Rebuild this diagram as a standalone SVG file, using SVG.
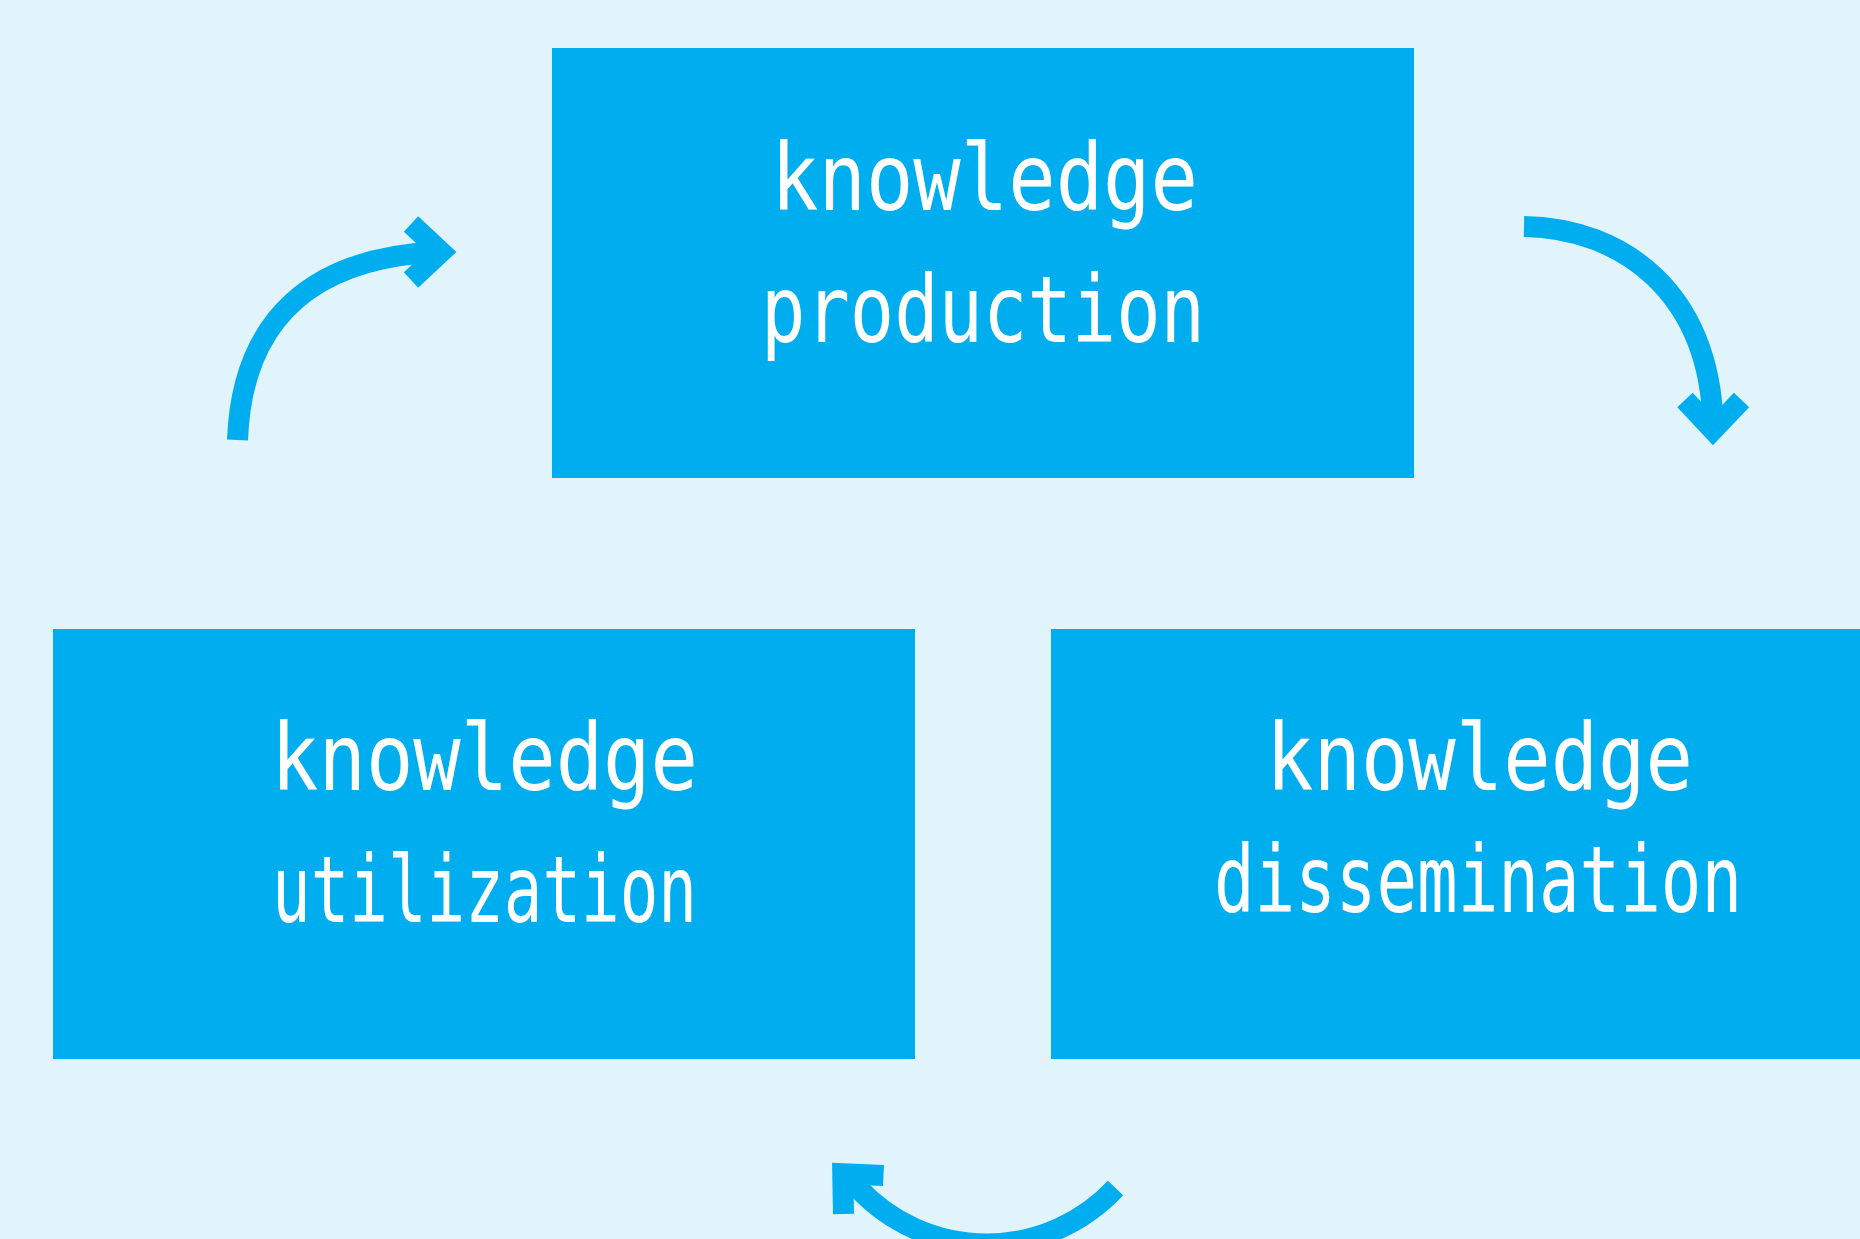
<svg xmlns="http://www.w3.org/2000/svg" width="1860" height="1239" viewBox="0 0 1860 1239">
<style>
.box{fill:#00AEEF}
.lbl{fill:#FFFFFF;font-family:"DejaVu Sans Mono","Liberation Mono",monospace;font-size:93px}
.arr{fill:none;stroke:#00AEEF;stroke-width:21;stroke-linecap:butt;stroke-linejoin:miter;stroke-miterlimit:10}
</style>
<rect width="1860" height="1239" fill="#E1F4FB"/>
<g id="node-production">
<rect class="box" x="552" y="48" width="862" height="430"/>
<text class="lbl" x="771" y="210" textLength="427" lengthAdjust="spacingAndGlyphs">knowledge</text>
<text class="lbl" x="761" y="342" textLength="444" lengthAdjust="spacingAndGlyphs">production</text>
</g>
<g id="node-utilization">
<rect class="box" x="53" y="629" width="862" height="430"/>
<text class="lbl" x="271" y="790" textLength="427" lengthAdjust="spacingAndGlyphs">knowledge</text>
<text class="lbl" x="272" y="922" textLength="425" lengthAdjust="spacingAndGlyphs">utilization</text>
</g>
<g id="node-dissemination">
<rect class="box" x="1051" y="629" width="862" height="430"/>
<text class="lbl" x="1266" y="790" textLength="427" lengthAdjust="spacingAndGlyphs">knowledge</text>
<text class="lbl" x="1214" y="912" textLength="528" lengthAdjust="spacingAndGlyphs">dissemination</text>
</g>
<g id="connectors">
<path class="arr" d="M237.5 440 C242 318 314 258 436 252"/>
<polyline class="arr" points="411,224 441,252 411,280"/>
<path class="arr" d="M1524 226.5 C1622 228 1710 292 1713 425"/>
<polyline class="arr" points="1685,400 1713,430 1741.5,400"/>
<path class="arr" d="M1115.5 1188 A176 176 0 0 1 858 1188 L848 1178"/>
<polyline class="arr" points="883.5,1175.5 842.75,1173.75 843.5,1214"/>
</g>
</svg>
